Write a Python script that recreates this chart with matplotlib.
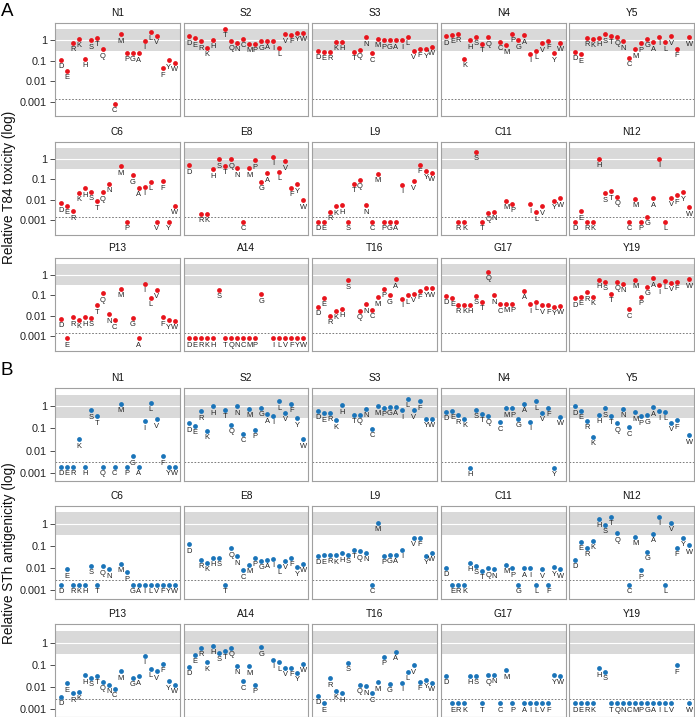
import numpy as np
import matplotlib
matplotlib.use("Agg")
import matplotlib.pyplot as plt

plt.rcParams['font.family'] = ['Liberation Sans', 'DejaVu Sans']

# substituting amino acids, in plotting order (wild type slot left empty)
amino_acids = ["D", "E", "R", "K", "H", "S", "T", "Q", "N", "C",
               "M", "P", "G", "A", "I", "L", "V", "F", "Y", "W"]
positions = ["N1", "S2", "S3", "N4", "Y5", "C6", "E8", "L9", "C11", "N12",
             "P13", "A14", "T16", "G17", "Y19"]

n = None  # wild type / no data

# ---- A: relative T84 toxicity ----
tox_N1 = [0.11, 0.033, 0.77, 1.15, 0.126, 1.0, 1.35, 0.37, n, 0.00083,
          1.97, 0.25, 0.25, 0.23, 0.96, 2.6, 1.7, 0.043, 0.105, 0.08]
tox_S2 = [1.6, 1.25, 0.9, 0.44, 1.04, n, 3.6, 0.9, 0.77, 1.15,
          0.66, 0.66, 0.9, 0.93, 0.9, 0.44, 2.0, 1.9, 2.4, 2.4]
tox_S3 = [0.31, 0.28, 0.28, 0.86, 0.86, n, 0.28, 0.34, 1.4, 0.23,
          1.2, 1.0, 1.0, 1.0, 1.0, 1.5, 0.3, 0.4, 0.36, 0.49]
tox_N4 = [1.6, 1.8, 2.1, 0.13, 1.0, 1.5, 0.69, 1.4, n, 0.83,
          0.57, 2.1, 1.0, 1.75, 0.22, 0.3, 0.71, 0.96, 0.23, 0.77]
tox_Y5 = [0.28, 0.21, 1.35, 1.2, 1.3, 2.0, 1.7, 1.45, 0.9, 0.14,
          0.36, 0.71, 1.2, 0.8, 1.45, 0.8, 1.55, 0.38, n, 1.4]
tox_C6 = [0.0066, 0.005, 0.0027, 0.021, 0.035, 0.024, 0.0083, 0.023, 0.061, n,
          0.42, 0.0008, 0.15, 0.039, 0.043, 0.071, 0.0008, 0.077, 0.0008, 0.005]
tox_E8 = [0.47, n, 0.0021, 0.0021, 0.3, 0.93, 0.44, 0.93, 0.33, 0.0008,
          0.33, 0.83, 0.074, 0.19, 1.25, 0.23, 0.74, 0.039, 0.055, 0.0093]
tox_L9 = [0.0008, 0.0008, 0.0025, 0.0047, 0.0053, 0.0008, 0.059, 0.089, 0.0053, 0.0008,
          0.18, 0.0008, 0.0008, 0.0008, 0.053, n, 0.077, 0.5, 0.26, 0.2]
tox_C11 = [n, n, 0.0008, 0.0008, n, 2.1, 0.0008, 0.0022, 0.0025, n,
           0.0086, 0.0064, n, n, 0.006, 0.0024, 0.0047, n, 0.0086, 0.0117]
tox_N12 = [0.0008, 0.0027, 0.0008, 0.0008, 1.0, 0.02, 0.025, 0.014, n, 0.0008,
           0.011, 0.0008, 0.0014, 0.0115, 1.0, 0.0008, 0.0126, 0.016, 0.023, 0.0042]
tox_P13 = [0.0069, 0.0008, 0.0083, 0.0064, 0.0083, 0.008, 0.032, 0.125, 0.012, 0.006,
           0.2, n, 0.0077, 0.0008, 0.37, 0.074, 0.19, 0.0085, 0.0061, 0.0055]
tox_A14 = [0.0008, 0.0008, 0.0008, 0.0008, 0.0008, 0.18, 0.0008, 0.0008, 0.0008, 0.0008,
           0.0008, 0.0008, 0.11, n, 0.0008, 0.0008, 0.0008, 0.0008, 0.0008, 0.0008]
tox_T16 = [0.028, 0.077, 0.0103, 0.017, 0.022, 0.53, n, 0.017, 0.037, 0.02,
           0.08, 0.2, 0.1, 0.61, 0.069, 0.098, 0.12, 0.16, 0.22, 0.22]
tox_G17 = [0.097, 0.074, 0.034, 0.034, 0.034, 0.097, 0.048, 1.4, 0.1, 0.036,
           0.039, 0.039, n, 0.16, 0.036, 0.047, 0.032, 0.032, 0.027, 0.03]
tox_Y19 = [0.071, 0.083, 0.14, 0.083, 0.55, 0.45, 0.116, 0.45, 0.36, 0.021,
           0.57, 0.083, 0.25, 0.66, 0.31, 0.51, 0.4, 0.44, n, 0.59]

# ---- B: relative STh antigenicity ----
ant_N1 = [0.0018, 0.0018, 0.0018, 0.032, 0.0018, 0.66, 0.35, 0.0018, n, 0.0018,
          1.3, 0.0018, 0.0054, 0.0018, 0.21, 1.4, 0.26, 0.0054, 0.0018, 0.0018]
ant_S2 = [0.17, 0.13, 0.6, 0.078, 1.0, n, 0.71, 0.15, 1.0, 0.055,
          0.76, 0.084, 0.87, 0.44, 0.38, 1.68, 0.5, 1.27, 0.29, 0.032]
ant_S3 = [0.62, 0.48, 0.5, 0.23, 1.1, n, 0.42, 0.42, 0.79, 0.095,
          1.0, 0.84, 0.97, 0.97, 0.66, 2.1, 0.66, 1.68, 0.27, 0.27]
ant_N4 = [0.58, 0.62, 0.39, 0.28, 0.0017, 0.71, 0.45, 0.38, n, 0.19,
          0.81, 0.81, 0.27, 1.3, 0.2, 1.68, 0.52, 0.84, 0.0017, 0.33]
ant_Y5 = [1.0, 0.64, 0.22, 0.043, 0.41, 0.81, 0.38, 0.17, 0.76, 0.11,
          0.54, 0.35, 0.39, 0.9, 0.6, 0.58, 0.18, 0.23, n, 0.048]
ant_C6 = [0.0018, 0.009, 0.0018, 0.0018, 0.0018, 0.0127, 0.0018, 0.012, 0.009, n,
          0.016, 0.0066, 0.0018, 0.0018, 0.0018, 0.0018, 0.0018, 0.0018, 0.0018, 0.0018]
ant_E8 = [0.12, n, 0.024, 0.018, 0.029, 0.029, 0.0018, 0.078, 0.034, 0.0081,
          0.014, 0.03, 0.021, 0.024, 0.026, 0.0127, 0.022, 0.03, 0.011, 0.016]
ant_L9 = [0.036, 0.038, 0.041, 0.038, 0.047, 0.041, 0.068, 0.058, 0.05, 0.0018,
          1.15, 0.037, 0.041, 0.041, 0.07, n, 0.23, 0.23, 0.037, 0.05]
ant_C11 = [0.0107, 0.0018, 0.0018, 0.0018, 0.017, 0.0127, 0.0079, 0.01, 0.009, n,
           0.014, 0.01, 0.0018, 0.01, 0.01, 0.0018, 0.009, 0.0018, 0.011, 0.009]
ant_N12 = [0.024, 0.156, 0.084, 0.17, 1.73, 0.93, 2.1, 0.38, n, 0.0018,
           0.27, 0.0081, 0.056, 0.36, 2.1, 0.0018, 1.15, 0.081, 0.24, 0.107]
ant_P13 = [0.0036, 0.0146, 0.005, 0.0058, 0.033, 0.025, 0.031, 0.017, 0.0127, 0.0081,
           0.05, n, 0.025, 0.03, 0.26, 0.066, 0.05, 0.11, 0.018, 0.0123]
ant_A14 = [0.081, 0.28, 0.56, 0.127, 0.71, 0.34, 0.42, 0.56, 0.09, 0.018,
           0.084, 0.012, 0.6, n, 0.17, 0.13, 0.071, 0.071, 0.044, 0.11]
ant_T16 = [0.0038, 0.0018, 0.024, 0.0068, 0.005, 0.12, n, 0.0127, 0.0107, 0.005,
           0.016, 0.23, 0.0137, 0.37, 0.015, 0.049, 0.093, 0.017, 0.021, 0.015]
ant_G17 = [0.032, 0.0018, 0.0018, 0.0018, 0.031, 0.031, 0.0018, 0.033, 0.034, 0.0018,
           0.056, 0.0018, n, 0.0018, 0.0018, 0.0018, 0.0018, 0.0018, 0.033, 0.032]
ant_Y19 = [0.0018, 0.0018, 0.0018, 0.0018, 0.068, 0.047, 0.0018, 0.0018, 0.0018, 0.0018,
           0.0018, 0.0018, 0.0018, 0.0018, 0.0018, 0.0018, 0.0018, 0.093, n, 0.0018]

toxicity = [tox_N1, tox_S2, tox_S3, tox_N4, tox_Y5, tox_C6, tox_E8, tox_L9,
            tox_C11, tox_N12, tox_P13, tox_A14, tox_T16, tox_G17, tox_Y19]
antigenicity = [ant_N1, ant_S2, ant_S3, ant_N4, ant_Y5, ant_C6, ant_E8, ant_L9,
                ant_C11, ant_N12, ant_P13, ant_A14, ant_T16, ant_G17, ant_Y19]

W, H = 695, 717
fig = plt.figure(figsize=(W / 100, H / 100), dpi=100)

panel_left = [55 + i * 128.6 for i in range(5)]
panel_w = 124.8
panel_h = 93


def draw_block(values, row_tops, color, ylim, cutoff, ylabel, letter, letter_y):
    axes = []
    for k, (pos, vals) in enumerate(zip(positions, values)):
        r, c = divmod(k, 5)
        left = panel_left[c]
        top = row_tops[r]
        ax = fig.add_axes([left / W, 1 - (top + panel_h) / H, panel_w / W, panel_h / H])
        ax.set_yscale('log')
        ax.set_ylim(*ylim)
        ax.set_xlim(-0.95, 19.85)
        ax.axhspan(0.31, 3.4, color='#d9d9d9', lw=0, zorder=0)
        ax.axhline(1, color='white', lw=0.8, zorder=0.5)
        ax.axhline(cutoff, color='#666666', lw=0.6, dashes=(2, 2), zorder=0.6)

        y = np.array([np.nan if v is None else v for v in vals], dtype=float)
        x = np.arange(len(amino_acids))
        ok = ~np.isnan(y)
        ax.scatter(x[ok], y[ok], s=12, color=color, lw=0, zorder=3)
        for xi, yi, aa in zip(x[ok], y[ok], np.array(amino_acids)[ok]):
            ax.annotate(aa, (xi, yi), xytext=(0, -2.4), textcoords='offset points',
                        ha='center', va='top', fontsize=5.4, color='#222222')

        ax.set_title(pos, fontsize=7.3, pad=5, color='#111111')
        ax.set_xticks([])
        ax.minorticks_off()
        for s in ax.spines.values():
            s.set_color('#a0a0a0')
            s.set_linewidth(0.8)
        if c == 0:
            ax.set_yticks([0.001, 0.01, 0.1, 1])
            ax.set_yticklabels(["0.001", "0.01", "0.1", "1"])
            ax.tick_params(axis='y', labelsize=7.8, length=3.6, width=0.6,
                           pad=2, color='#333333', labelcolor='#222222')
        else:
            ax.set_yticks([])
        axes.append(ax)

    mid = (row_tops[0] + row_tops[-1] + panel_h) / 2
    fig.text(9 / W, 1 - mid / H, ylabel, rotation=90, ha='center', va='center',
             fontsize=9.8, color='#111111')
    fig.text(1 / W, 1 - letter_y / H, letter, ha='left', va='top', fontsize=13.5)
    return axes


draw_block(toxicity, [23.3, 141.5, 257.7], '#e8141c', (0.0002, 6.8), 0.0014,
           "Relative T84 toxicity (log)", "A", 3)
draw_block(antigenicity, [388, 505.7, 624.3], '#1a74b9', (0.00042, 6.7), 0.0029,
           "Relative STh antigenicity (log)", "B", 362)

fig.savefig("out.png", dpi=100)
